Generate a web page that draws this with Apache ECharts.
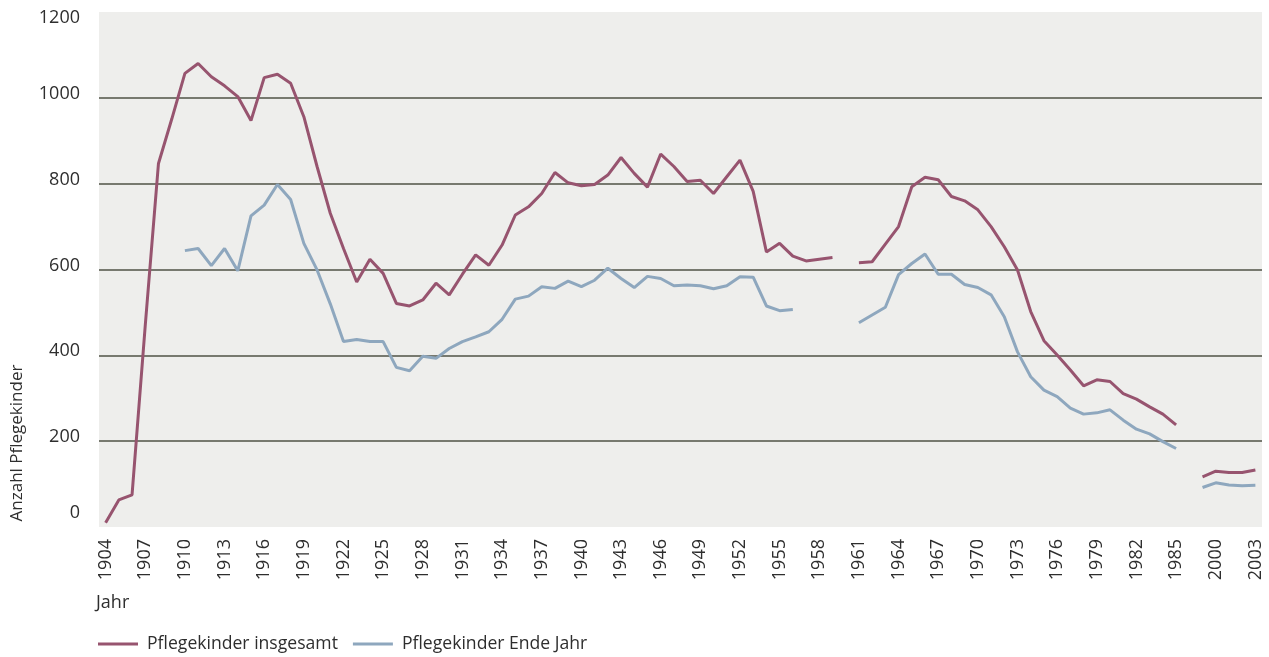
<!DOCTYPE html>
<html>
<head>
<meta charset="utf-8">
<script src="https://cdn.jsdelivr.net/npm/echarts@6/dist/echarts.min.js"></script>
<style>
	html, body { margin: 0; padding: 0; background: #fff; }
	#main { width: 1269px; height: 657px; }
</style>
</head>
<body>
<div id="main"></div>
<script>
var years = [
	'1904','1905','1906','1907','1908','1909','1910','1911','1912','1913',
	'1914','1915','1916','1917','1918','1919','1920','1921','1922','1923',
	'1924','1925','1926','1927','1928','1929','1930','1931','1932','1933',
	'1934','1935','1936','1937','1938','1939','1940','1941','1942','1943',
	'1944','1945','1946','1947','1948','1949','1950','1951','1952','1953',
	'1954','1955','1956','1957','1958','1959','1960','1961','1962','1963',
	'1964','1965','1966','1967','1968','1969','1970','1971','1972','1973',
	'1974','1975','1976','1977','1978','1979','1980','1981','1982','1983',
	'1984','1985','1998','1999','2000','2001','2002','2003'
];

// Pflegekinder insgesamt
var insgesamt = [
	10, 63, 75, 470, 847, 950, 1057, 1080, 1049, 1028,
	1003, 947, 1047, 1055, 1034, 956, 840, 731, 649, 571,
	624, 591, 521, 515, 529, 568, 541, 589, 634, 610,
	657, 727, 746, 777, 826, 802, 795, 798, 820, 861,
	824, 792, 869, 840, 805, 808, 777, 816, 855, 782,
	641, 661, 631, 620, 624, 628, null, 616, 618, 659,
	700, 793, 815, 809, 770, 760, 739, 700, 653, 599,
	502, 434, 401, 366, 329, 343, 339, 311, 298, 280,
	263, 238, null, 117, 130, 127, 127, 133
];

// Pflegekinder Ende Jahr
var endeJahr = [
	null, null, null, null, null, null, 644, 649, 609, 649,
	597, 725, 750, 798, 763, 661, 599, 520, 432, 437,
	432, 432, 372, 364, 398, 393, 416, 432, 443, 455,
	484, 531, 538, 560, 556, 573, 560, 575, 603, 579,
	558, 584, 579, 562, 564, 562, 555, 562, 583, 582,
	515, 504, 507, null, null, null, null, 476, 494, 512,
	588, 614, 636, 589, 589, 565, 558, 541, 490, 408,
	350, 319, 304, 277, 263, 266, 273, 249, 228, 217,
	199, 183, null, 92, 103, 98, 96, 97
];

var seriesNames = ['Pflegekinder insgesamt', 'Pflegekinder Ende Jahr'];

var font = '"Open Sans", "Noto Sans", sans-serif';
var textColor = '#2e2e2e';

var myChart = echarts.init(document.getElementById('main'), null, {renderer: 'canvas'});
var option = {
	animation: false,
	backgroundColor: '#fff',
	textStyle: { fontFamily: font },
	grid: {
		left: 99,
		right: 7,
		top: 12,
		bottom: 130,
		show: true,
		backgroundColor: '#eeeeec',
		borderWidth: 0
	},
	legend: {
		data: seriesNames,
		left: 93,
		top: 630,
		icon: 'rect',
		itemWidth: 40,
		itemHeight: 3,
		itemGap: 15,
		textStyle: {
			fontFamily: font,
			fontSize: 17.6,
			color: textColor,
			padding: [0, 0, 0, 4]
		}
	},
	graphic: [
		{
			type: 'text',
			x: 17,
			y: 443,
			rotation: Math.PI / 2,
			style: {
				text: 'Anzahl Pflegekinder',
				font: '17px ' + font,
				fill: textColor,
				align: 'center',
				verticalAlign: 'middle'
			}
		},
		{
			type: 'text',
			x: 96,
			y: 603,
			style: {
				text: 'Jahr',
				font: '18px ' + font,
				fill: textColor,
				align: 'left',
				verticalAlign: 'middle'
			}
		}
	],
	xAxis: {
		type: 'category',
		data: years,
		boundaryGap: true,
		axisLine: { show: false },
		axisTick: { show: false },
		axisLabel: {
			interval: 2,
			rotate: 90,
			margin: 12,
			fontFamily: font,
			fontSize: 18,
			color: textColor
		},
		splitLine: { show: false }
	},
	yAxis: {
		type: 'value',
		min: 0,
		max: 1200,
		interval: 200,
		axisLine: { show: false },
		axisTick: { show: false },
		axisLabel: {
			margin: 19,
			fontFamily: font,
			fontSize: 18,
			color: textColor,
			formatter: function (v) {
				if (v === 1200) return '{top|' + v + '}';
				if (v === 0) return '{bot|' + v + '}';
				return '{mid|' + v + '}';
			},
			rich: {
				top: { fontFamily: font, fontSize: 18, color: textColor, padding: [12, 0, 0, 0] },
				mid: { fontFamily: font, fontSize: 18, color: textColor, padding: [0, 0, 8, 0] },
				bot: { fontFamily: font, fontSize: 18, color: textColor, padding: [0, 0, 28, 0] }
			}
		},
		splitLine: {
			show: true,
			showMinLine: false,
			showMaxLine: false,
			lineStyle: { color: '#4f5246', width: 1.5 }
		}
	},
	series: [
		{
			name: seriesNames[0],
			type: 'line',
			data: insgesamt,
			showSymbol: false,
			connectNulls: false,
			color: '#97546f',
			lineStyle: { width: 3, color: '#97546f' }
		},
		{
			name: seriesNames[1],
			type: 'line',
			data: endeJahr,
			showSymbol: false,
			connectNulls: false,
			color: '#8ea7be',
			lineStyle: { width: 3, color: '#8ea7be' }
		}
	]
};
myChart.setOption(option);
window.onresize = myChart.resize;
</script>
</body>
</html>
